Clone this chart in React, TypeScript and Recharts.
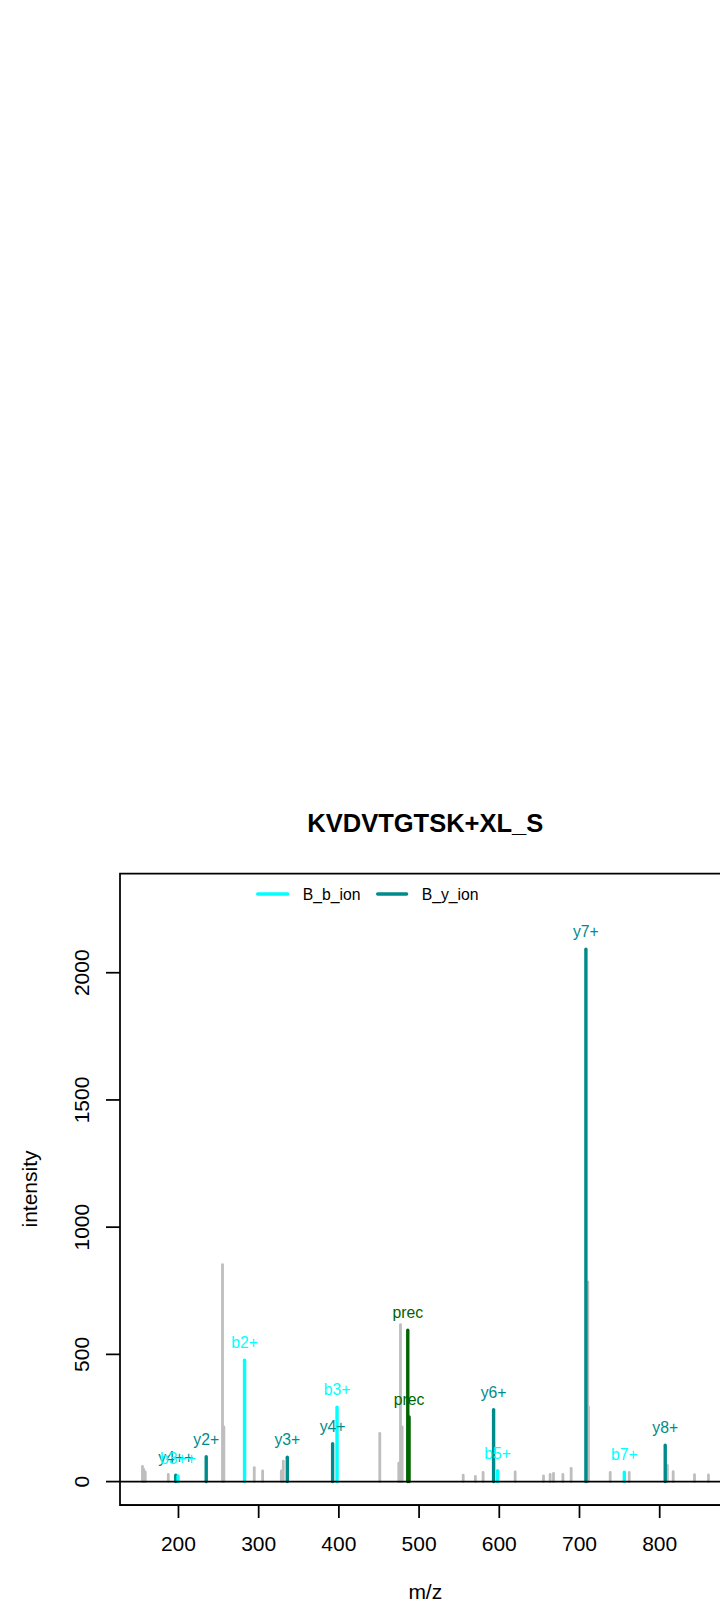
import React from 'react';
import { ComposedChart, XAxis, YAxis, ReferenceLine, ReferenceArea, Scatter } from 'recharts';

const FONT = "'Liberation Sans', Arial, Helvetica, sans-serif";

const TITLE = 'KVDVTGTSK+XL_S';
const X_TITLE = 'm/z';
const Y_TITLE = 'intensity';
const LEGEND_LABELS = ['B_b_ion', 'B_y_ion'];

const X_TICKS = [200, 300, 400, 500, 600, 700, 800];
const Y_TICKS = [0, 500, 1000, 1500, 2000];
const X_DOMAIN: [number, number] = [127.1, 888.9];
const Y_DOMAIN: [number, number] = [-92, 2390];

const GREY = '#BEBEBE';
const CYAN = '#00FFFF';
const TEAL = '#008B8B';
const DKGREEN = '#006400';

// unannotated peaks
const greyPeaks = [
  { mz: 155.1, intensity: 60 },
  { mz: 156.7, intensity: 48 },
  { mz: 158.6, intensity: 38 },
  { mz: 187.3, intensity: 28 },
  { mz: 254.9, intensity: 853 },
  { mz: 256.6, intensity: 215 },
  { mz: 294.5, intensity: 55 },
  { mz: 304.9, intensity: 42 },
  { mz: 328.2, intensity: 42 },
  { mz: 330.7, intensity: 80 },
  { mz: 451.0, intensity: 189 },
  { mz: 474.7, intensity: 72 },
  { mz: 476.8, intensity: 617 },
  { mz: 478.9, intensity: 215 },
  { mz: 555.0, intensity: 25 },
  { mz: 570.2, intensity: 20 },
  { mz: 579.8, intensity: 36 },
  { mz: 619.8, intensity: 38 },
  { mz: 655.1, intensity: 22 },
  { mz: 663.4, intensity: 28 },
  { mz: 667.6, intensity: 32 },
  { mz: 679.3, intensity: 28 },
  { mz: 689.6, intensity: 52 },
  { mz: 710.3, intensity: 785 },
  { mz: 711.2, intensity: 293 },
  { mz: 738.3, intensity: 36 },
  { mz: 762.0, intensity: 36 },
  { mz: 809.6, intensity: 64 },
  { mz: 816.8, intensity: 39 },
  { mz: 843.4, intensity: 27 },
  { mz: 860.8, intensity: 26 },
];

const bIons = [
  { mz: 199.4, intensity: 22, label: 'b3++' },
  { mz: 282.4, intensity: 477, label: 'b2+' },
  { mz: 397.7, intensity: 292, label: 'b3+' },
  { mz: 597.9, intensity: 43, label: 'b5+' },
  { mz: 755.9, intensity: 37, label: 'b7+' },
];

const yIons = [
  { mz: 196.6, intensity: 25, label: 'y4++' },
  { mz: 234.6, intensity: 98, label: 'y2+' },
  { mz: 335.7, intensity: 96, label: 'y3+' },
  { mz: 392.2, intensity: 149, label: 'y4+' },
  { mz: 592.9, intensity: 283, label: 'y6+' },
  { mz: 708.0, intensity: 2092, label: 'y7+' },
  { mz: 806.9, intensity: 143, label: 'y8+' },
];

const precPeaks = [
  { mz: 485.9, intensity: 595, label: 'prec' },
  { mz: 487.5, intensity: 254, label: 'prec' },
];

const XTick = (props: any) => {
  const { x, y, payload } = props;
  return (
    <text x={x} y={y + 32.7} textAnchor="middle" fontSize={21} fontFamily={FONT} fill="#000">
      {payload.value}
    </text>
  );
};

const YTick = (props: any) => {
  const { x, y, payload } = props;
  const bx = x - 16.7;
  return (
    <text
      x={bx}
      y={y}
      transform={`rotate(-90 ${bx} ${y})`}
      textAnchor="middle"
      fontSize={21}
      fontFamily={FONT}
      fill="#000"
    >
      {payload.value}
    </text>
  );
};

const labelShape = (color: string) => (p: any) => (
  <text
    x={p.cx}
    y={p.cy - 12}
    textAnchor="middle"
    fontSize={15.75}
    fontFamily={FONT}
    fill={color}
  >
    {p.payload.label}
  </text>
);

const peakLines = (peaks: { mz: number; intensity: number }[], color: string, width: number, key: string) =>
  peaks.map((p, i) => (
    <ReferenceLine
      key={`${key}-${i}`}
      segment={[
        { x: p.mz, y: 0 },
        { x: p.mz, y: p.intensity },
      ]}
      stroke={color}
      strokeWidth={width}
      strokeLinecap="round"
      ifOverflow="visible"
    />
  ));

export default function App() {
  return (
    <div
      style={{
        position: 'fixed',
        left: 0,
        top: 0,
        width: 720,
        height: 1608,
        overflow: 'hidden',
        background: '#fff',
      }}
    >
      <ComposedChart
        width={800}
        height={1608}
        margin={{ top: 873.5, right: 69, bottom: 43, left: 0 }}
      >
        <XAxis
          type="number"
          dataKey="mz"
          domain={X_DOMAIN}
          ticks={X_TICKS}
          interval={0}
          allowDataOverflow
          height={60}
          tickSize={13}
          tickMargin={0}
          axisLine={{ stroke: '#000', strokeWidth: 1.75 }}
          tickLine={{ stroke: '#000', strokeWidth: 1.75 }}
          tick={<XTick />}
        />
        <YAxis
          type="number"
          dataKey="intensity"
          domain={Y_DOMAIN}
          ticks={Y_TICKS}
          interval={0}
          allowDataOverflow
          width={120}
          tickSize={14}
          tickMargin={0}
          axisLine={false}
          tickLine={{ stroke: '#000', strokeWidth: 1.75 }}
          tick={<YTick />}
        />
        <ReferenceArea
          x1={X_DOMAIN[0]}
          x2={X_DOMAIN[1]}
          y1={Y_DOMAIN[0]}
          y2={Y_DOMAIN[1]}
          fill="none"
          fillOpacity={0}
          stroke="#000"
          strokeWidth={1.75}
          ifOverflow="visible"
        />
        {peakLines(greyPeaks, GREY, 2.8, 'g')}
        {peakLines(yIons, TEAL, 3.4, 'y')}
        {peakLines(bIons, CYAN, 3.4, 'b')}
        {peakLines(precPeaks, DKGREEN, 3.4, 'p')}
        <ReferenceLine y={0} stroke="#000" strokeWidth={1.6} ifOverflow="visible" />
        <Scatter data={yIons} dataKey="intensity" isAnimationActive={false} shape={labelShape(TEAL)} />
        <Scatter data={bIons} dataKey="intensity" isAnimationActive={false} shape={labelShape(CYAN)} />
        <Scatter data={precPeaks} dataKey="intensity" isAnimationActive={false} shape={labelShape(DKGREEN)} />
      </ComposedChart>
      <svg
        width={720}
        height={1608}
        style={{ position: 'absolute', left: 0, top: 0, pointerEvents: 'none' }}
      >
        <text x={425.3} y={831.7} textAnchor="middle" fontSize={25.5} fontWeight="bold" fontFamily={FONT} fill="#000">
          {TITLE}
        </text>
        <text x={425.3} y={1599} textAnchor="middle" fontSize={21} fontFamily={FONT} fill="#000">
          {X_TITLE}
        </text>
        <text
          x={37}
          y={1189}
          transform="rotate(-90 37 1189)"
          textAnchor="middle"
          fontSize={21}
          fontFamily={FONT}
          fill="#000"
        >
          {Y_TITLE}
        </text>
        <line x1={257.7} y1={894} x2={287.6} y2={894} stroke={CYAN} strokeWidth={3.4} strokeLinecap="round" />
        <text x={302.7} y={900} fontSize={15.75} fontFamily={FONT} fill="#000">
          {LEGEND_LABELS[0]}
        </text>
        <line x1={377.7} y1={894} x2={406.6} y2={894} stroke={TEAL} strokeWidth={3.4} strokeLinecap="round" />
        <text x={421.7} y={900} fontSize={15.75} fontFamily={FONT} fill="#000">
          {LEGEND_LABELS[1]}
        </text>
      </svg>
    </div>
  );
}
